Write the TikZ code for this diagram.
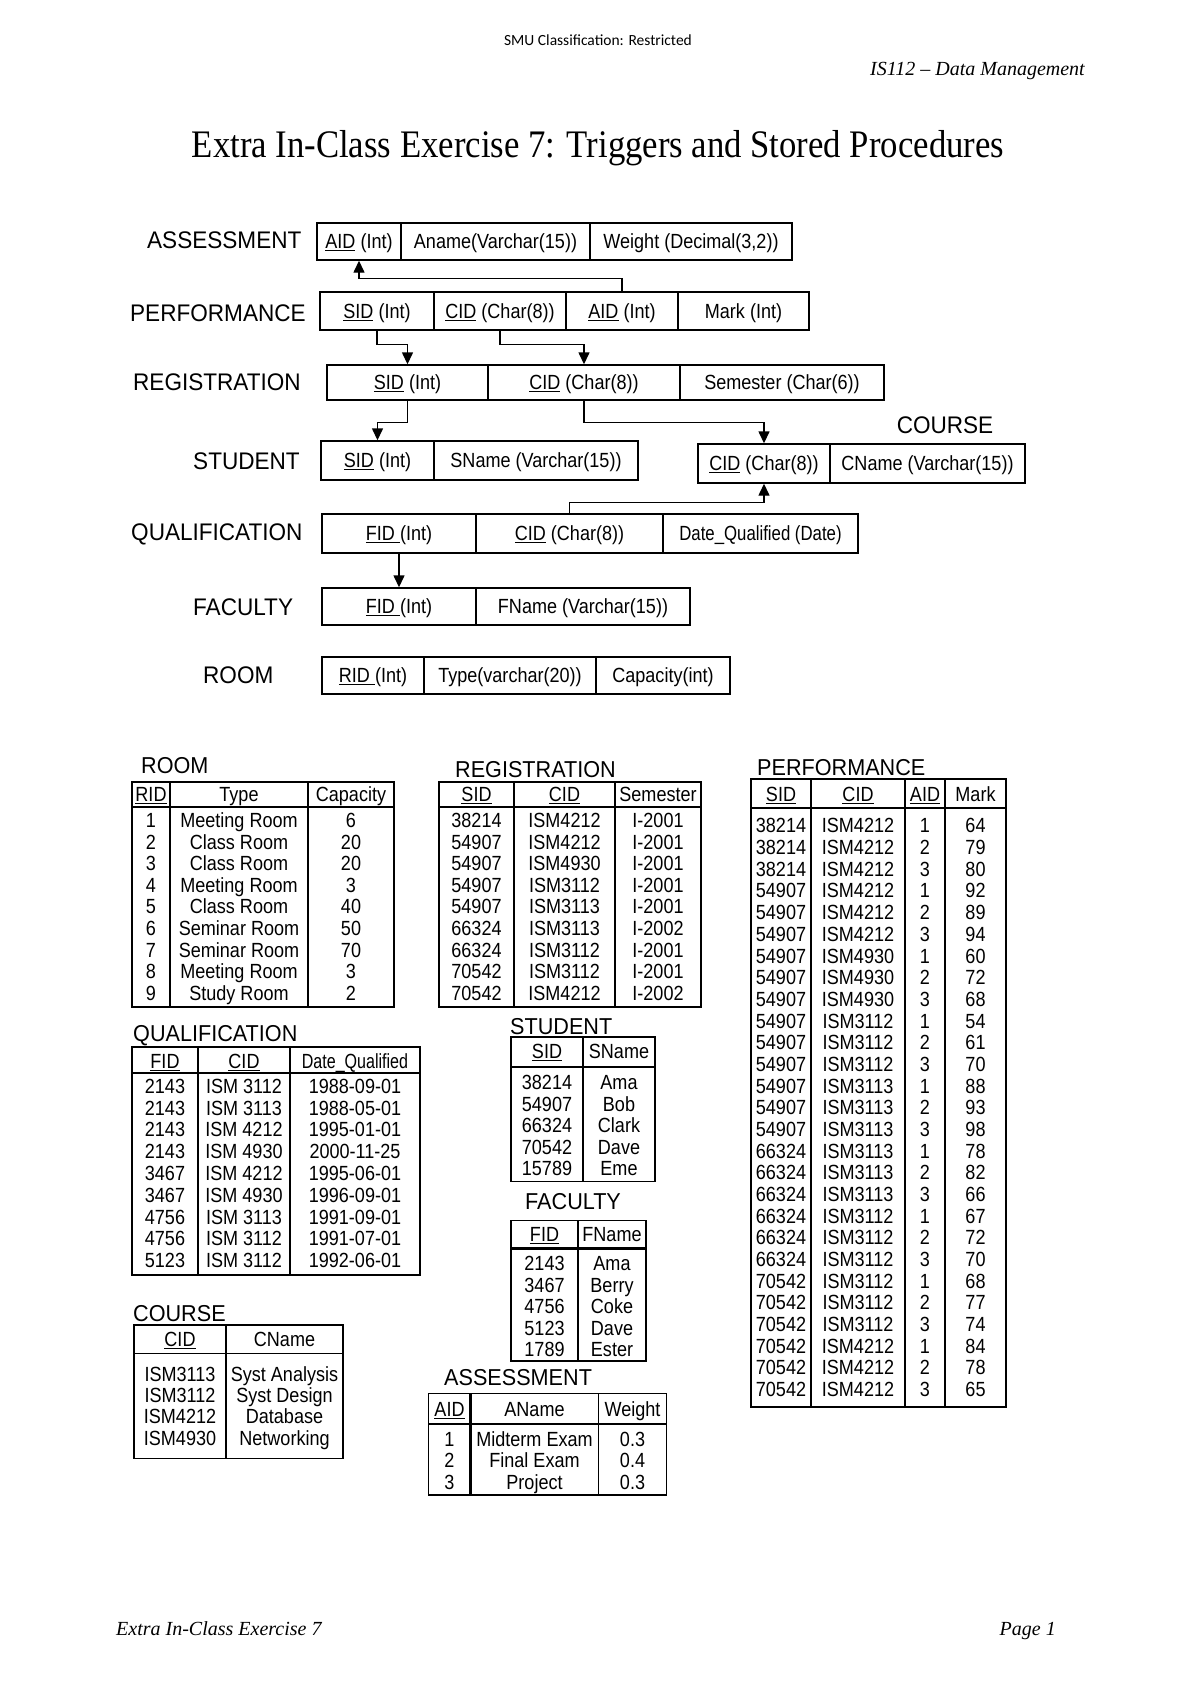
\documentclass[tikz,border=0pt]{standalone}
\usepackage{fontspec}
\usepackage{graphicx}
\setmainfont{Liberation Serif}
\newfontfamily\cellfont[FakeStretch=0.88]{Liberation Sans}
\newfontfamily\labfont[FakeStretch=0.94]{Liberation Sans}
\newfontfamily\smufont{Carlito}
\newfontfamily\titfont[FakeStretch=0.89]{Liberation Serif}
\usetikzlibrary{arrows.meta}
\tikzset{
  cell/.style={draw, line width=1.4pt, inner sep=0pt, text height=14.7pt, text depth=0pt,
    font=\cellfont\fontsize{20.5}{22}\selectfont},
  lab/.style={anchor=west, inner sep=0pt, text height=17.2pt, text depth=0pt,
    font=\labfont\fontsize{24}{26}\selectfont},
  ttl/.style={anchor=west, inner sep=0pt, text height=16.5pt, text depth=0pt,
    font=\labfont\fontsize{23}{25}\selectfont},
  dat/.style={inner sep=0pt, text height=14.7pt, text depth=0pt,
    font=\cellfont\fontsize{20.5}{22}\selectfont},
  fk/.style={line width=1.4pt, -{Triangle[length=12pt,width=11pt]}},
  tline/.style={line width=1.4pt},
  hline/.style={line width=2.6pt},
}
\begin{document}
\begin{tikzpicture}[x=1pt,y=-1pt]
\useasboundingbox (0,0) rectangle (1200,1696);

% ---------- page header / footer ----------
\node[anchor=base, inner sep=0pt, font=\smufont\fontsize{15.5}{17}\selectfont] (smu) at (598,46) {SMU Classification: Restricted};
\node[anchor=base east, inner sep=0pt, font=\itshape\fontsize{20}{22}\selectfont] (course) at (1085,76) {IS112 -- Data Management};
\node[anchor=base, inner sep=0pt, font=\titfont\fontsize{39}{42}\selectfont] (title) at (598,158) {Extra In-Class Exercise 7: Triggers and Stored Procedures};
\node[anchor=base west, inner sep=0pt, font=\itshape\fontsize{20}{22}\selectfont] (foot) at (116,1635) {Extra In-Class Exercise 7};
\node[anchor=base east, inner sep=0pt, font=\itshape\fontsize{20}{22}\selectfont] (page) at (1056,1635) {Page 1};

% ---------- schema ----------
\node[lab] (Lass) at (147,240) {ASSESSMENT};
\node[cell, minimum width=84pt, minimum height=37pt] (aAID) at (359,241.5) {\underline{AID} (Int)};
\node[cell, minimum width=189pt, minimum height=37pt] (aName) at (495.5,241.5) {Aname(Varchar(15))};
\node[cell, minimum width=202pt, minimum height=37pt] (aW) at (691,241.5) {Weight (Decimal(3,2))};

\node[lab] (Lperf) at (130,313) {PERFORMANCE};
\node[cell, minimum width=114pt, minimum height=38pt] (pSID) at (377,311) {\underline{SID} (Int)};
\node[cell, minimum width=132pt, minimum height=38pt] (pCID) at (500,311) {\underline{CID} (Char(8))};
\node[cell, minimum width=112pt, minimum height=38pt] (pAID) at (622,311) {\underline{AID} (Int)};
\node[cell, minimum width=131pt, minimum height=38pt] (pMark) at (743.5,311) {Mark (Int)};

\node[lab] (Lreg) at (133,382) {REGISTRATION};
\node[cell, minimum width=161pt, minimum height=35pt] (rSID) at (407.5,382.5) {\underline{SID} (Int)};
\node[cell, minimum width=192pt, minimum height=35pt] (rCID) at (584,382.5) {\underline{CID} (Char(8))};
\node[cell, minimum width=204pt, minimum height=35pt] (rSem) at (782,382.5) {Semester (Char(6))};

\node[lab] (Lstu) at (193,461) {STUDENT};
\node[cell, minimum width=113pt, minimum height=39pt] (sSID) at (377.5,460.5) {\underline{SID} (Int)};
\node[cell, minimum width=204pt, minimum height=39pt] (sName) at (536,460.5) {SName (Varchar(15))};

\node[lab, anchor=center] (Lcou) at (945,425) {COURSE};
\node[cell, minimum width=132pt, minimum height=39pt] (cCID) at (764,463.5) {\underline{CID} (Char(8))};
\node[cell, minimum width=195pt, minimum height=39pt] (cName) at (927.5,463.5) {CName (Varchar(15))};

\node[lab] (Lqual) at (131,532) {QUALIFICATION};
\node[cell, minimum width=154pt, minimum height=39pt] (qFID) at (399,533.5) {\underline{FID\ }(Int)};
\node[cell, minimum width=187pt, minimum height=39pt] (qCID) at (569.5,533.5) {\underline{CID} (Char(8))};
\node[cell, minimum width=195pt, minimum height=39pt] (qDate) at (760.5,533.5) {\scalebox{0.93}[1]{Date\_Qualified (Date)}};

\node[lab] (Lfac) at (193,607) {FACULTY};
\node[cell, minimum width=154pt, minimum height=37pt] (fFID) at (399,606.5) {\underline{FID\ }(Int)};
\node[cell, minimum width=214pt, minimum height=37pt] (fName) at (583,606.5) {FName (Varchar(15))};

\node[lab] (Lroom) at (203,675) {ROOM};
\node[cell, minimum width=102pt, minimum height=37pt] (mRID) at (373,675.5) {\underline{RID\ }(Int)};
\node[cell, minimum width=172pt, minimum height=37pt] (mType) at (510,675.5) {Type(varchar(20))};
\node[cell, minimum width=134pt, minimum height=37pt] (mCap) at (663,675.5) {Capacity(int)};

% ---------- foreign keys ----------
\draw[fk] (pAID.north) -- ++(0,-13) -| (aAID.south);
\draw[fk] (pSID.south) -- ++(0,14) -| (rSID.north);
\draw[fk] (pCID.south) -- ++(0,14) -| (rCID.north);
\draw[fk] (rSID.south) -- ++(0,22) -| (sSID.north);
\draw[fk] (rCID.south) -- ++(0,22) -| (cCID.north);
\draw[fk] (qCID.north) -- ++(0,-11) -| (cCID.south);
\draw[fk] (qFID.south) -- (fFID.north);

% ---------- ROOM table ----------
\node[ttl] (tRoom) at (141,765) {ROOM};
\draw[tline] (132,782) rectangle (394,1007);
\draw[tline] (170,782) -- (170,1007);
\draw[hline] (308,782) -- (308,1007);
\draw[hline] (132,807) -- (394,807);
\node[dat] (room-h1) at (151,794) {\underline{RID}};
\node[dat] (room-h2) at (239,794) {Type};
\node[dat] (room-h3) at (351,794) {Capacity};
\foreach \a/\b/\c [count=\i] in {1/Meeting Room/6,2/Class Room/20,3/Class Room/20,4/Meeting Room/3,5/Class Room/40,6/Seminar Room/50,7/Seminar Room/70,8/Meeting Room/3,9/Study Room/2}{
  \pgfmathsetmacro\yy{820+21.65*(\i-1)}
  \node[dat] (room-\i-1) at (151,\yy) {\a};
  \node[dat] (room-\i-2) at (239,\yy) {\b};
  \node[dat] (room-\i-3) at (351,\yy) {\c};
}

% ---------- REGISTRATION table ----------
\node[ttl] (tReg) at (455,769) {REGISTRATION};
\draw[tline] (439,782) rectangle (701,1007);
\draw[tline] (514,782) -- (514,1007) (615,782) -- (615,1007);
\draw[line width=2pt] (439,807) -- (701,807);
\node[dat] (reg-h1) at (476.5,794) {\underline{SID}};
\node[dat] (reg-h2) at (564.5,794) {\underline{CID}};
\node[dat] (reg-h3) at (658,794) {Semester};
\foreach \a/\b/\c [count=\i] in {38214/ISM4212/I-2001,54907/ISM4212/I-2001,54907/ISM4930/I-2001,54907/ISM3112/I-2001,54907/ISM3113/I-2001,66324/ISM3113/I-2002,66324/ISM3112/I-2001,70542/ISM3112/I-2001,70542/ISM4212/I-2002}{
  \pgfmathsetmacro\yy{820+21.65*(\i-1)}
  \node[dat] (reg-\i-1) at (476.5,\yy) {\a};
  \node[dat] (reg-\i-2) at (564.5,\yy) {\b};
  \node[dat] (reg-\i-3) at (658,\yy) {\c};
}

% ---------- PERFORMANCE table ----------
\node[ttl] (tPerf) at (757,767) {PERFORMANCE};
\draw[tline] (751,779) rectangle (1006,1407);
\draw[tline] (811,779) -- (811,1407) (905,779) -- (905,1407);
\draw[hline] (945,779) -- (945,1407);
\draw[hline] (751,808) -- (1006,808);
\node[dat] (perf-h1) at (781,794) {\underline{SID}};
\node[dat] (perf-h2) at (858,794) {\underline{CID}};
\node[dat] (perf-h3) at (925,794) {\underline{AID}};
\node[dat] (perf-h4) at (975.5,794) {Mark};
\foreach \a/\b/\c/\d [count=\i] in {38214/ISM4212/1/64,38214/ISM4212/2/79,38214/ISM4212/3/80,54907/ISM4212/1/92,54907/ISM4212/2/89,54907/ISM4212/3/94,54907/ISM4930/1/60,54907/ISM4930/2/72,54907/ISM4930/3/68,54907/ISM3112/1/54,54907/ISM3112/2/61,54907/ISM3112/3/70,54907/ISM3113/1/88,54907/ISM3113/2/93,54907/ISM3113/3/98,66324/ISM3113/1/78,66324/ISM3113/2/82,66324/ISM3113/3/66,66324/ISM3112/1/67,66324/ISM3112/2/72,66324/ISM3112/3/70,70542/ISM3112/1/68,70542/ISM3112/2/77,70542/ISM3112/3/74,70542/ISM4212/1/84,70542/ISM4212/2/78,70542/ISM4212/3/65}{
  \pgfmathsetmacro\yy{825.6+21.68*(\i-1)}
  \node[dat] (perf-\i-1) at (781,\yy) {\a};
  \node[dat] (perf-\i-2) at (858,\yy) {\b};
  \node[dat] (perf-\i-3) at (925,\yy) {\c};
  \node[dat] (perf-\i-4) at (975.5,\yy) {\d};
}

% ---------- QUALIFICATION table ----------
\node[ttl] (tQual) at (133,1033) {QUALIFICATION};
\draw[tline] (132,1047) rectangle (420,1275);
\draw[tline] (198,1047) -- (198,1275) (290,1047) -- (290,1275);
\draw[hline] (132,1073) -- (420,1073);
\node[dat] (qual-h1) at (165,1061) {\underline{FID}};
\node[dat] (qual-h2) at (244,1061) {\underline{CID}};
\node[dat] (qual-h3) at (355,1061) {\scalebox{0.89}[1]{Date\_Qualified}};
\foreach \a/\b/\c [count=\i] in {2143/ISM 3112/1988-09-01,2143/ISM 3113/1988-05-01,2143/ISM 4212/1995-01-01,2143/ISM 4930/2000-11-25,3467/ISM 4212/1995-06-01,3467/ISM 4930/1996-09-01,4756/ISM 3113/1991-09-01,4756/ISM 3112/1991-07-01,5123/ISM 3112/1992-06-01}{
  \pgfmathsetmacro\yy{1086+21.8*(\i-1)}
  \node[dat] (qual-\i-1) at (165,\yy) {\a};
  \node[dat] (qual-\i-2) at (244,\yy) {\b};
  \node[dat] (qual-\i-3) at (355,\yy) {\c};
}

% ---------- STUDENT table ----------
\node[ttl] (tStu) at (510,1026) {STUDENT};
\draw[tline] (511,1037) rectangle (655,1181.5);
\draw[tline] (583,1037) -- (583,1181.5);
\draw[hline] (511,1067) -- (655,1067);
\node[dat] (stu-h1) at (547,1051) {\underline{SID}};
\node[dat] (stu-h2) at (619,1051) {SName};
\foreach \a/\b [count=\i] in {38214/Ama,54907/Bob,66324/Clark,70542/Dave,15789/Eme}{
  \pgfmathsetmacro\yy{1082+21.65*(\i-1)}
  \node[dat] (stu-\i-1) at (547,\yy) {\a};
  \node[dat] (stu-\i-2) at (619,\yy) {\b};
}

% ---------- FACULTY table ----------
\node[ttl] (tFac) at (525,1201) {FACULTY};
\draw[tline] (511,1220.5) rectangle (646,1361);
\draw[tline] (578,1220.5) -- (578,1361);
\draw[hline] (511,1248.6) -- (646,1248.6);
\node[dat] (fac-h1) at (544.5,1234.5) {\underline{FID}};
\node[dat] (fac-h2) at (612,1234.5) {FName};
\foreach \a/\b [count=\i] in {2143/Ama,3467/Berry,4756/Coke,5123/Dave,1789/Ester}{
  \pgfmathsetmacro\yy{1263+21.65*(\i-1)}
  \node[dat] (fac-\i-1) at (544.5,\yy) {\a};
  \node[dat] (fac-\i-2) at (612,\yy) {\b};
}

% ---------- COURSE table ----------
\node[ttl] (tCou) at (133,1313.5) {COURSE};
\draw[tline] (134,1325) rectangle (343,1458.6);
\draw[tline] (226,1325) -- (226,1458.6);
\draw[tline] (134,1353.6) -- (343,1353.6);
\node[dat] (cou-h1) at (180,1339.5) {\underline{CID}};
\node[dat] (cou-h2) at (284.5,1339.5) {CName};
\foreach \a/\b [count=\i] in {ISM3113/Syst Analysis,ISM3112/Syst Design,ISM4212/Database,ISM4930/Networking}{
  \pgfmathsetmacro\yy{1374+21.3*(\i-1)}
  \node[dat] (cou-\i-1) at (180,\yy) {\a};
  \node[dat] (cou-\i-2) at (284.5,\yy) {\b};
}

% ---------- ASSESSMENT table ----------
\node[ttl] (tAss) at (444,1377) {ASSESSMENT};
\draw[tline] (428.5,1393.6) rectangle (666.5,1495);
\draw[hline] (470.7,1393.6) -- (470.7,1495);
\draw[tline] (598.3,1393.6) -- (598.3,1495);
\draw[hline] (428.5,1424) -- (666.5,1424);
\node[dat] (ass-h1) at (449.5,1409) {\underline{AID}};
\node[dat] (ass-h2) at (534.5,1409) {AName};
\node[dat] (ass-h3) at (632.5,1409) {Weight};
\foreach \a/\b/\c [count=\i] in {1/Midterm Exam/0.3,2/Final Exam/0.4,3/Project/0.3}{
  \pgfmathsetmacro\yy{1439+21.5*(\i-1)}
  \node[dat] (ass-\i-1) at (449.5,\yy) {\a};
  \node[dat] (ass-\i-2) at (534.5,\yy) {\b};
  \node[dat] (ass-\i-3) at (632.5,\yy) {\c};
}
\end{tikzpicture}
\end{document}
